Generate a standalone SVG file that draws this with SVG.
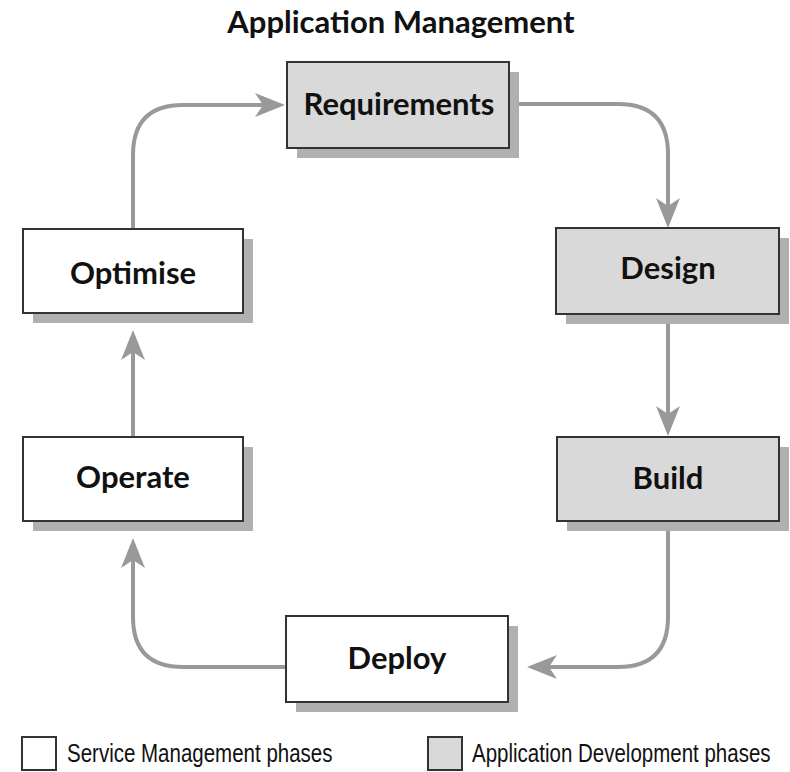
<svg xmlns="http://www.w3.org/2000/svg" width="790" height="772" viewBox="0 0 790 772">
<style>
.box{stroke:#333;stroke-width:2}
.dev{fill:#d9d9d9}
.svc{fill:#fff}
.sh{fill:#b0b0b0}
.lbl{font-family:Lato,"Open Sans",sans-serif;font-weight:bold;font-size:31px;fill:#111;text-anchor:middle}
.leg{font-family:"Liberation Sans",sans-serif;font-size:25px;fill:#111}
.con{fill:none;stroke:#999;stroke-width:4}
</style>
<defs>
<marker id="ah" markerUnits="userSpaceOnUse" markerWidth="32" markerHeight="26" viewBox="0 0 32 26" refX="11" refY="13" orient="auto">
<path d="M31,13 L1,1 L9,13 L1,25 Z" fill="#999"/>
</marker>
</defs>
<rect width="790" height="772" fill="#fff"/>
<text class="lbl" x="401" y="33">Application Management</text>
<g id="connectors">
<path class="con" d="M509 104 H618 Q668 104 668 154 V208" marker-end="url(#ah)"/>
<path class="con" d="M668 314 V416" marker-end="url(#ah)"/>
<path class="con" d="M668 521 V617 Q668 667 618 667 H547" marker-end="url(#ah)"/>
<path class="con" d="M286 667 H183 Q133 667 133 617 V558" marker-end="url(#ah)"/>
<path class="con" d="M133 437 V350" marker-end="url(#ah)"/>
<path class="con" d="M133 229 V155 Q133 105 183 105 H265" marker-end="url(#ah)"/>
</g>
<g id="requirements">
<rect class="sh" x="297" y="72" width="222" height="86"/>
<rect class="box dev" x="287" y="62" width="222" height="86"/>
<text class="lbl" x="399" y="115">Requirements</text>
</g>
<g id="design">
<rect class="sh" x="566" y="238" width="223" height="86"/>
<rect class="box dev" x="556" y="228" width="223" height="86"/>
<text class="lbl" x="668" y="279">Design</text>
</g>
<g id="build">
<rect class="sh" x="567" y="447" width="222" height="84"/>
<rect class="box dev" x="557" y="437" width="222" height="84"/>
<text class="lbl" x="668" y="489">Build</text>
</g>
<g id="deploy">
<rect class="sh" x="296" y="626" width="222" height="86"/>
<rect class="box svc" x="286" y="616" width="222" height="86"/>
<text class="lbl" x="397" y="669">Deploy</text>
</g>
<g id="operate">
<rect class="sh" x="33" y="447" width="220" height="84"/>
<rect class="box svc" x="23" y="437" width="220" height="84"/>
<text class="lbl" x="133" y="488">Operate</text>
</g>
<g id="optimise">
<rect class="sh" x="33" y="239" width="220" height="84"/>
<rect class="box svc" x="23" y="229" width="220" height="84"/>
<text class="lbl" x="133" y="284">Optimise</text>
</g>
<g id="legend">
<rect class="box svc" x="22" y="737" width="34" height="33"/>
<text class="leg" transform="translate(67 762) scale(0.82 1)" x="0" y="0">Service Management phases</text>
<rect class="box dev" x="428" y="737" width="34" height="33"/>
<text class="leg" transform="translate(472 762) scale(0.82 1)" x="0" y="0">Application Development phases</text>
</g>
</svg>
